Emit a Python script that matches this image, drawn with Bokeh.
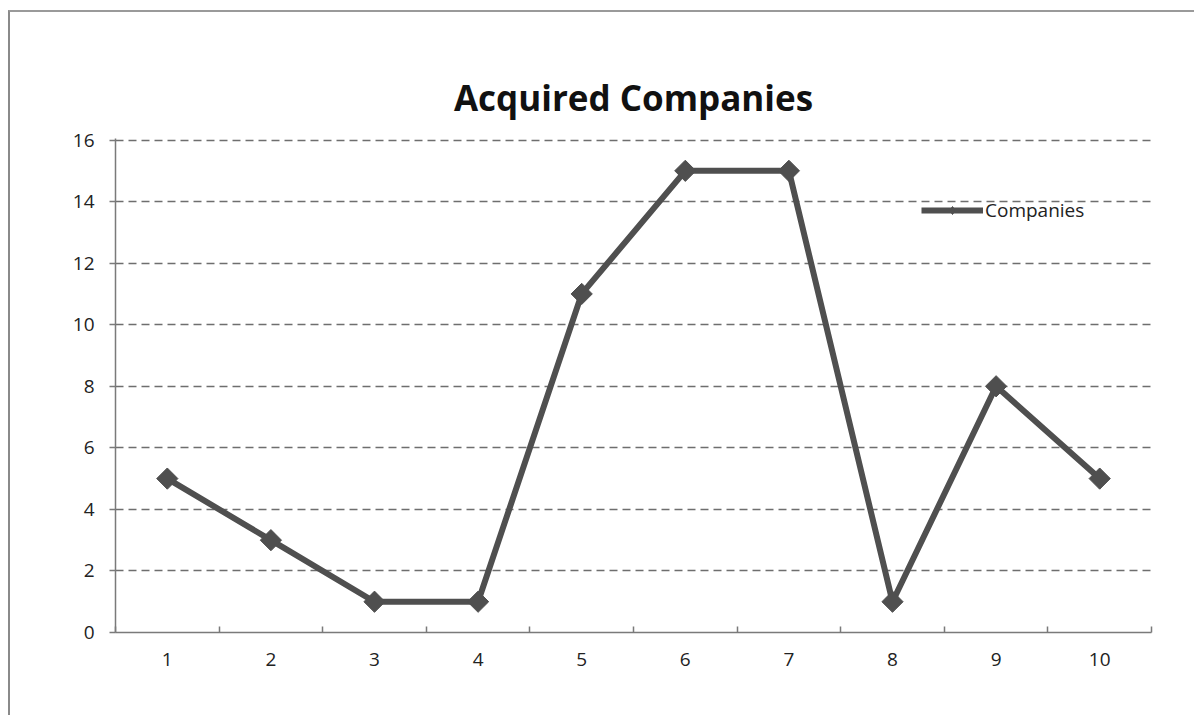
import math

from bokeh.plotting import figure
from bokeh.models import ColumnDataSource, FixedTicker, Range1d, Title, Legend, LegendItem
from bokeh.embed import file_html
from bokeh.resources import INLINE

# Number of acquired companies per period
periods = [1, 2, 3, 4, 5, 6, 7, 8, 9, 10]
companies = [5, 3, 1, 1, 11, 15, 15, 1, 8, 5]
y_ticks = [0, 2, 4, 6, 8, 10, 12, 14, 16]
series_name = "Companies"
chart_title = "Acquired Companies"

FONT = "Open Sans"
LINE_COLOR = "#4f4f4f"

source = ColumnDataSource(data=dict(x=periods, y=companies))
key_source = ColumnDataSource(data=dict(x=periods[:1], y=companies[:1]))

p = figure(
    width=1186, height=705,
    output_backend="svg", toolbar_location=None,
    x_range=Range1d(0.5, 10.5), y_range=Range1d(0, 16.05),
    min_border_left=105, min_border_right=45,
    min_border_top=126, min_border_bottom=85,
    background_fill_color="white", border_fill_color="white",
)
p.outline_line_color = None
p.styles = {
    "margin-left": "8px", "margin-top": "10px",
    "border-left": "2px solid #8a8a8a", "border-top": "2px solid #9a9a9a",
}

title = Title(text=chart_title, align="center", text_font=FONT,
              text_font_size="35px", text_font_style="bold",
              text_color="#111111", standoff=36)
p.add_layout(title, "above")

# x axis: labels at period centres, tick marks on the boundaries
p.xaxis.ticker = FixedTicker(ticks=periods,
                             minor_ticks=[v + 0.5 for v in [0] + periods])
p.xaxis.major_tick_line_color = None
p.xaxis.minor_tick_in = 6
p.xaxis.minor_tick_out = 0
p.xaxis.minor_tick_line_color = "#7a7a7a"
p.xaxis.minor_tick_line_width = 1.5
p.xaxis.axis_line_color = "#7a7a7a"
p.xaxis.axis_line_width = 1.5
p.xaxis.major_label_text_font = FONT
p.xaxis.major_label_text_font_size = "19px"
p.xaxis.major_label_text_color = "#222222"
p.xaxis.major_label_standoff = 14

# y axis
p.yaxis.ticker = FixedTicker(ticks=y_ticks)
p.yaxis.minor_tick_line_color = None
p.yaxis.major_tick_in = 0
p.yaxis.major_tick_out = 6
p.yaxis.major_tick_line_color = "#7a7a7a"
p.yaxis.major_tick_line_width = 1.5
p.yaxis.axis_line_color = "#7a7a7a"
p.yaxis.axis_line_width = 1.5
p.yaxis.major_label_text_font = FONT
p.yaxis.major_label_text_font_size = "19px"
p.yaxis.major_label_text_color = "#222222"
p.yaxis.major_label_standoff = 15

p.xgrid.grid_line_color = None
p.ygrid.grid_line_color = "#6e6e6e"
p.ygrid.grid_line_width = 1.6
p.ygrid.grid_line_dash = "8 5"

line = p.line("x", "y", source=source, line_color=LINE_COLOR, line_width=6)

# small diamond used as the legend key (sits under the first point marker)
key_marker = p.scatter("x", "y", source=key_source, marker="diamond", size=14,
                       fill_color=LINE_COLOR, line_color=LINE_COLOR)

pts = p.scatter("x", "y", source=source, marker="square", size=15,
                angle=math.pi / 4,
                fill_color=LINE_COLOR, line_color=LINE_COLOR)

legend = Legend(items=[LegendItem(label=series_name, renderers=[line, key_marker])],
                location=(806, 409), border_line_color=None,
                background_fill_alpha=0, glyph_width=62, glyph_height=20,
                label_standoff=2, padding=4, margin=0,
                label_text_font=FONT, label_text_font_size="19px",
                label_text_color="#222222")
p.add_layout(legend, "center")

open("out.html", "w").write(file_html(p, INLINE))
